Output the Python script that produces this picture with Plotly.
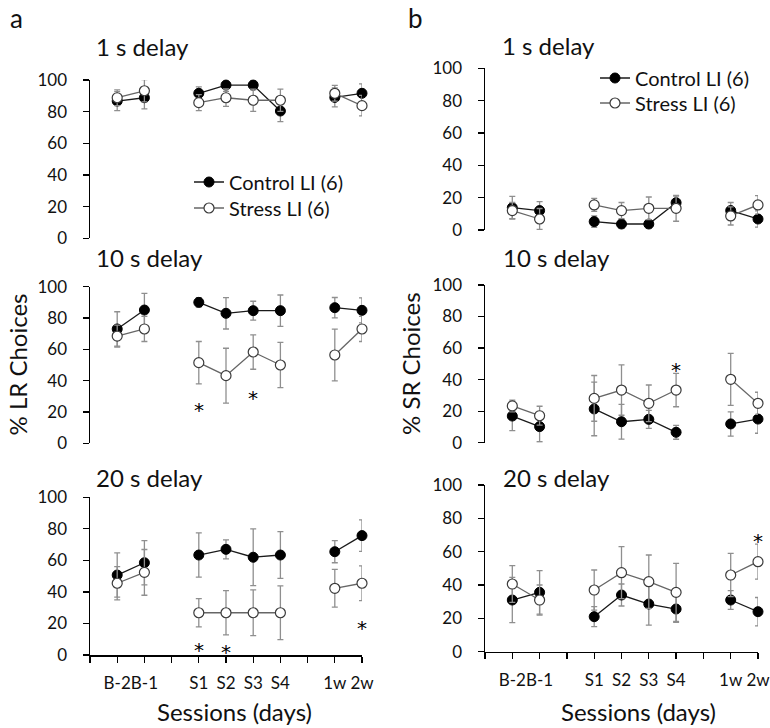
import plotly.graph_objects as go

# ---------------- data ----------------
slots = ["B-2", "B-1", None, "S1", "S2", "S3", "S4", None, "1w", "2w"]
sessions = ["B-2", "B-1", "S1", "S2", "S3", "S4", "1w", "2w"]

LR_1s_control = [86.7, 88.8, 91.6, 96.8, 96.8, 80.4, 89.0, 91.6]
LR_1s_control_err = [6, 7, 4, 4, 3, 6.7, 6, 6]
LR_1s_stress = [88.8, 93.2, 85.7, 88.8, 87.2, 87.2, 91.6, 83.8]
LR_1s_stress_err = [5, 7, 5, 5.5, 7, 7, 5, 6.5]

LR_10s_control = [73.0, 85.1, 90.0, 83.0, 84.7, 84.7, 86.6, 84.9]
LR_10s_control_err = [11, 10.7, 3, 10, 6, 10, 6.5, 8]
LR_10s_stress = [68.5, 73.0, 51.5, 43.2, 58.3, 50.0, 56.4, 73.0]
LR_10s_stress_err = [7, 8, 13.5, 17.5, 11, 14.5, 16.5, 8]

LR_20s_control = [50.7, 58.5, 63.4, 67.0, 62.0, 63.4, 65.5, 75.7]
LR_20s_control_err = [14, 14, 14, 6, 18, 14.8, 7, 10]
LR_20s_stress = [45.5, 52.4, 26.8, 26.8, 26.8, 26.8, 42.3, 45.5]
LR_20s_stress_err = [10.6, 14.5, 9, 14, 14.5, 17, 12, 11]

SR_1s_control = [13.8, 12.0, 5.2, 3.7, 3.7, 16.9, 12.0, 6.8]
SR_1s_control_err = [7, 5.5, 3.5, 2.5, 2.5, 4, 5, 5]
SR_1s_stress = [12.0, 6.8, 15.5, 12.0, 13.4, 13.4, 8.7, 15.5]
SR_1s_stress_err = [5, 6.5, 4, 5, 7, 8, 5.6, 5.7]

SR_10s_control = [16.9, 10.2, 21.4, 13.3, 14.8, 6.6, 11.9, 15.0]
SR_10s_control_err = [9.3, 9.6, 17, 11, 5.7, 4.4, 7.7, 9]
SR_10s_stress = [23.3, 17.1, 28.1, 33.4, 25.0, 33.4, 40.2, 25.0]
SR_10s_stress_err = [3.7, 6, 14.5, 16, 11.6, 10.6, 16.5, 7]

SR_20s_control = [31.0, 35.6, 21.0, 34.0, 28.6, 25.6, 31.0, 24.0]
SR_20s_control_err = [13.6, 13, 6, 6.6, 12.6, 8, 5.6, 8.5]
SR_20s_stress = [40.6, 31.0, 37.0, 47.4, 42.0, 35.6, 46.0, 54.0]
SR_20s_stress_err = [11, 9, 12, 15.6, 16, 17.4, 13, 10.5]

# significance stars: (session, value)
stars_LR_10s = [("S1", 25), ("S3", 33)]
stars_LR_20s = [("S1", 6.8), ("S2", 5.7), ("2w", 21)]
stars_SR_10s = [("S4", 50)]
stars_SR_20s = [("2w", 70)]

y_ticks = [0, 20, 40, 60, 80, 100]
delay_titles = ["1 s delay", "10 s delay", "20 s delay"]
series_names = ["Control LI (6)", "Stress LI (6)"]

# ---------------- helpers ----------------
FONT = "Lato, Calibri, Carlito, sans-serif"
STAR_FONT = "DejaVu Sans, sans-serif"
TXT = "#111111"
W, H = 770, 728


def px(x):
    return x / W


def py(y):
    return 1 - y / H


slot_pos = {s: i + 1 for i, s in enumerate(slots) if s}


def spread(vals):
    d = dict(zip(sessions, vals))
    return [d.get(s) if s else None for s in slots]


xs = list(range(1, len(slots) + 1))

CTRL_LINE = dict(color="#1a1a1a", width=1.3)
CTRL_MARK = dict(symbol="circle", size=10, color="#000000", line=dict(color="#000000", width=1))
STR_LINE = dict(color="#666666", width=1.3)
STR_MARK = dict(symbol="circle", size=10, color="#ffffff", line=dict(color="#3a3a3a", width=1.2))
ERR_COLOR = "#8f8f8f"

panels = [
    ("a", 0, LR_1s_control, LR_1s_control_err, LR_1s_stress, LR_1s_stress_err, [], (90, 362), (80, 238.3)),
    ("a", 1, LR_10s_control, LR_10s_control_err, LR_10s_stress, LR_10s_stress_err, stars_LR_10s, (90, 362), (286.7, 443.3)),
    ("a", 2, LR_20s_control, LR_20s_control_err, LR_20s_stress, LR_20s_stress_err, stars_LR_20s, (90, 362), (497.3, 655)),
    ("b", 0, SR_1s_control, SR_1s_control_err, SR_1s_stress, SR_1s_stress_err, [], (485, 758), (68.3, 230)),
    ("b", 1, SR_10s_control, SR_10s_control_err, SR_10s_stress, SR_10s_stress_err, stars_SR_10s, (485, 758), (285, 442.7)),
    ("b", 2, SR_20s_control, SR_20s_control_err, SR_20s_stress, SR_20s_stress_err, stars_SR_20s, (485, 758), (485, 651.7)),
]

fig = go.Figure()
layout = {}
annotations = []

title_pos = {  # left px, center y px
    ("a", 0): (94, 47), ("a", 1): (94, 257), ("a", 2): (94, 477),
    ("b", 0): (500, 45), ("b", 1): (501, 257), ("b", 2): (501, 477),
}

for i, (col, row, cv, ce, sv, se, stars, dx, dy) in enumerate(panels):
    n = "" if i == 0 else str(i + 1)
    xa, ya = "x" + n, "y" + n
    fig.add_trace(go.Scatter(
        x=xs, y=spread(cv), xaxis=xa, yaxis=ya, mode="lines+markers",
        name=series_names[0], showlegend=False,
        line=CTRL_LINE, marker=CTRL_MARK,
        error_y=dict(type="data", array=spread(ce), color=ERR_COLOR, thickness=1.3, width=3),
        cliponaxis=False, connectgaps=False,
    ))
    fig.add_trace(go.Scatter(
        x=xs, y=spread(sv), xaxis=xa, yaxis=ya, mode="lines+markers",
        name=series_names[1], showlegend=False,
        line=STR_LINE, marker=STR_MARK,
        error_y=dict(type="data", array=spread(se), color=ERR_COLOR, thickness=1.3, width=3),
        cliponaxis=False, connectgaps=False,
    ))
    bottom = row == 2
    layout["xaxis" + n] = dict(
        domain=[px(dx[0]), px(dx[1])], anchor=ya, range=[0, 10], automargin=False,
        tickmode="array", tickvals=list(range(0, 11)), tickangle=0,
        ticktext=[""] + [s if s else "" for s in slots],
        showline=bottom, linecolor="#000000", linewidth=1.5,
        ticks="outside" if bottom else "", ticklen=6, tickwidth=1.3, tickcolor="#000000",
        showticklabels=bottom, showgrid=False, zeroline=False, ticklabelstandoff=6,
        ticklabeloverflow="allow",
        tickfont=dict(family=FONT, size=17, color=TXT),
    )
    layout["yaxis" + n] = dict(
        domain=[py(dy[1]), py(dy[0])], anchor=xa, range=[0, 100], automargin=False,
        tickmode="array", tickvals=y_ticks,
        showline=True, linecolor="#000000", linewidth=1.5,
        ticks="outside", ticklen=6, tickwidth=1.3, tickcolor="#000000",
        showgrid=False, zeroline=False, ticklabelstandoff=12,
        tickfont=dict(family=FONT, size=17, color=TXT),
    )
    tx, ty = title_pos[(col, row)]
    annotations.append(dict(
        text=delay_titles[row], xref="paper", yref="paper", x=px(tx), y=py(ty),
        xanchor="left", yanchor="middle", showarrow=False,
        font=dict(family=FONT, size=24, color=TXT),
    ))
    for s, v in stars:
        annotations.append(dict(
            text="*", xref=xa, yref=ya, x=slot_pos[s], y=v, yshift=-6,
            xanchor="center", yanchor="middle", showarrow=False,
            font=dict(family=STAR_FONT, size=20, color="#000000"),
        ))

# legend entries (one legend box per row)
legend_rows = [
    ("legend", series_names[0], CTRL_LINE, CTRL_MARK, 189, 182),
    ("legend3", series_names[1], STR_LINE, STR_MARK, 189, 208),
    ("legend2", series_names[0], CTRL_LINE, CTRL_MARK, 595, 78),
    ("legend4", series_names[1], STR_LINE, STR_MARK, 595, 103),
]
legend_layout = {}
for key, name, ln, mk, lx, ly in legend_rows:
    fig.add_trace(go.Scatter(
        x=[None], y=[None], mode="lines+markers", name=name, legend=key,
        line=ln, marker=mk, showlegend=True,
    ))
    legend_layout[key] = dict(
        x=px(lx), y=py(ly), xanchor="left", yanchor="middle",
        bgcolor="rgba(0,0,0,0)", borderwidth=0,
        font=dict(family=FONT, size=20, color=TXT),
    )

# axis titles & panel letters
for text, x, y, ang, size in [
    ("% LR Choices", 16.5, 365, -90, 24),
    ("% SR Choices", 410, 363, -90, 24),
    ("Sessions (days)", 234, 711, 0, 24),
    ("Sessions (days)", 638, 711, 0, 24),
    ("a", 16, 18, 0, 26),
    ("b", 416, 18, 0, 26),
]:
    annotations.append(dict(
        text=text, xref="paper", yref="paper", x=px(x), y=py(y),
        xanchor="center", yanchor="middle", showarrow=False, textangle=ang,
        font=dict(family=FONT, size=size, color=TXT),
    ))

fig.update_layout(
    width=W, height=H, margin=dict(l=0, r=0, t=0, b=0, autoexpand=False),
    paper_bgcolor="white", plot_bgcolor="white",
    font=dict(family=FONT, color=TXT),
    annotations=annotations,
    hovermode=False,
    **legend_layout,
    **layout,
)

fig.write_html(
    "out.html",
    config={"displayModeBar": False, "staticPlot": True},
    post_script="document.body.style.margin='0';document.body.style.overflow='hidden';",
)
